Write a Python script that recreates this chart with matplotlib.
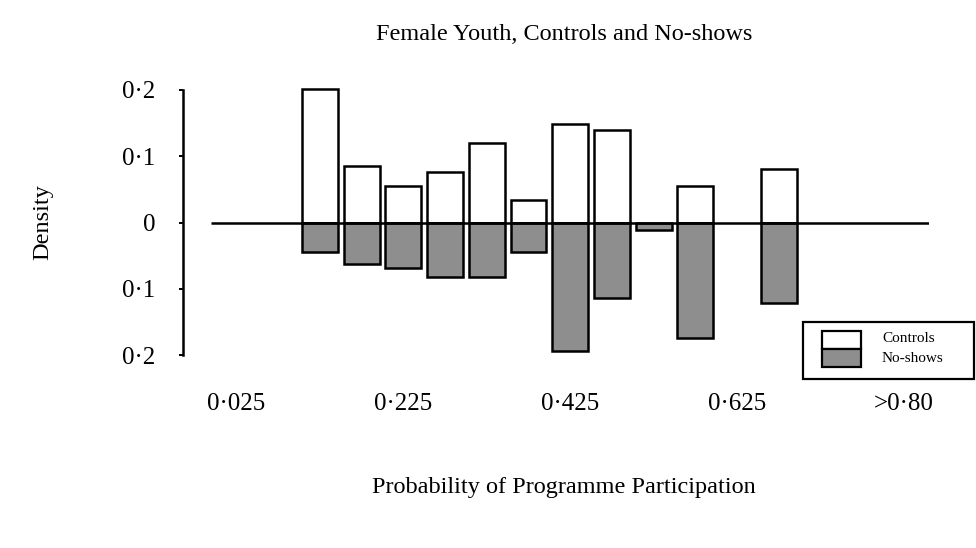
import numpy as np
import matplotlib
matplotlib.use('Agg')
import matplotlib.pyplot as plt
from matplotlib.patches import Rectangle

plt.rcParams['font.family'] = ['Liberation Serif', 'DejaVu Serif']

#chart data
bins = ['0·025', '0·075', '0·125', '0·175', '0·225', '0·275', '0·325', '0·375',
        '0·425', '0·475', '0·525', '0·575', '0·625', '0·675', '0·725', '0·775', '>0·80']
controls = [0, 0, 0.201, 0.086, 0.055, 0.076, 0.120, 0.034, 0.149, 0.139,
            0, 0.055, 0, 0.081, 0, 0, 0]
no_shows = [0, 0, 0.045, 0.062, 0.069, 0.083, 0.083, 0.045, 0.194, 0.114,
            0.012, 0.175, 0, 0.121, 0, 0, 0]
series_names = ['Controls', 'No-shows']
label_every = 4
yticks = [0.2, 0.1, 0, -0.1, -0.2]
ytick_labels = ['0·2', '0·1', '0', '0·1', '0·2']

GREY = '#8e8e8e'
W, H = 976, 548

x = np.arange(len(bins))
controls = np.array(controls)
no_shows = np.array(no_shows)

fig = plt.figure(figsize=(W/100, H/100), dpi=100)
ax = fig.add_axes([183/W, 1-355/H, (929-183)/W, (355-90)/H])

width = 0.86
m = controls > 0
ax.bar(x[m], controls[m], width, facecolor='white', edgecolor='black',
       linewidth=1.8, zorder=2, clip_on=False)
m = no_shows > 0
ax.bar(x[m], -no_shows[m], width, facecolor=GREY, edgecolor='black',
       linewidth=1.8, zorder=2, clip_on=False)

#baseline at zero
ax.hlines(0, -0.6, 16.6, color='black', linewidth=1.8, zorder=3)

ax.set_xlim(-1.28, 16.6)
ax.set_ylim(-0.2, 0.2)

for s in ['top', 'right', 'bottom']:
    ax.spines[s].set_visible(False)
ax.spines['left'].set_linewidth(1.8)

ax.set_yticks(yticks)
ax.set_yticklabels(ytick_labels, fontsize=18)
ax.tick_params(axis='y', length=3, width=1.4, pad=17)

ax.set_xticks(x[::label_every])
ax.set_xticklabels(bins[::label_every], fontsize=18)
ax.tick_params(axis='x', length=0, pad=27)

fig.text(0.578, 1-34/H, 'Female Youth, Controls and No-shows', ha='center', va='center', fontsize=17.5)
fig.text(43/W, 1-222/H, 'Density', ha='center', va='center', rotation=90, fontsize=17.5)
fig.text(0.578, 1-487/H, 'Probability of Programme Participation', ha='center', va='center', fontsize=17.5)

#legend box drawn by hand to match the boxed key of the original
tf = fig.transFigure
fig.patches.append(Rectangle((803/W, 1-379/H), 171/W, 57/H, transform=tf,
                             facecolor='white', edgecolor='black', linewidth=1.6))
fig.patches.append(Rectangle((822/W, 1-349/H), 39/W, 18/H, transform=tf,
                             facecolor='white', edgecolor='black', linewidth=1.6))
fig.patches.append(Rectangle((822/W, 1-367/H), 39/W, 18/H, transform=tf,
                             facecolor=GREY, edgecolor='black', linewidth=1.6))
fig.text(882/W, 1-339/H, series_names[0], ha='left', va='center', fontsize=11)
fig.text(882/W, 1-359/H, series_names[1], ha='left', va='center', fontsize=11)

plt.savefig('out.png', dpi=100)
